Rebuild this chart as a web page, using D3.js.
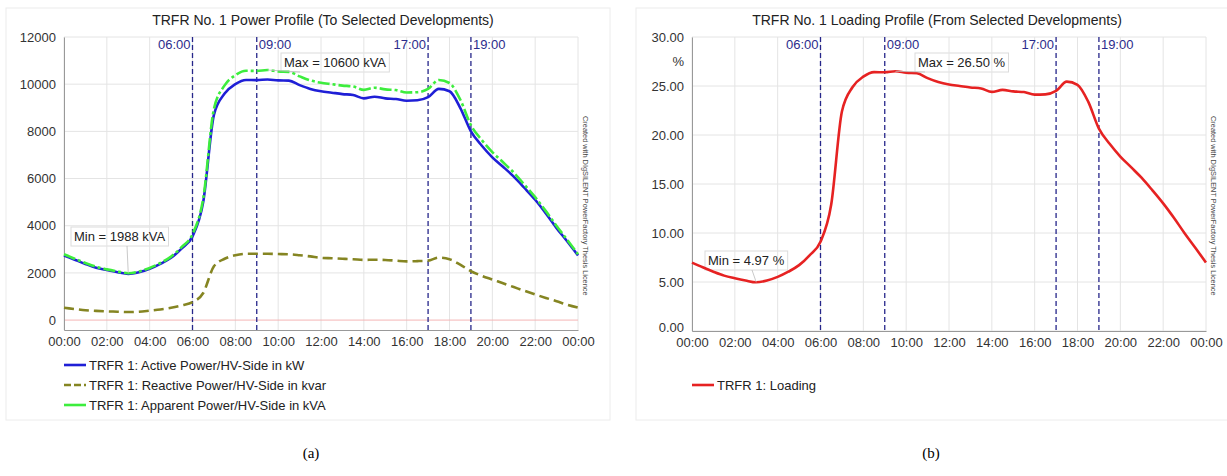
<!DOCTYPE html>
<html>
<head>
<meta charset="utf-8">
<script src="https://cdn.jsdelivr.net/npm/d3@7"></script>
<style>
  body { margin: 0; background: #fff; }
  svg { display: block; font-family: "Liberation Sans", Arial, sans-serif; }
</style>
</head>
<body>
<svg id="chart" width="1227" height="476"></svg>
<script>
// half-hour steps over one day
const hours = d3.range(0, 24.5, 0.5);

// kW
const activePower = [2740, 2560, 2380, 2220, 2120, 2030, 1960, 2030, 2170, 2380, 2640, 3040, 3550, 5000, 8700, 9600,
  10000, 10180, 10170, 10200, 10160, 10150, 9960, 9800, 9700, 9640, 9580, 9540, 9400, 9470, 9400, 9370,
  9300, 9320, 9450, 9800, 9700, 9000, 8000, 7400, 6900, 6500, 6080, 5600, 5100, 4520, 3900, 3330, 2740];
// kvar
const reactivePower = [520, 470, 420, 390, 370, 355, 340, 355, 400, 450, 520, 620, 760, 1150, 2280, 2600,
  2750, 2810, 2810, 2810, 2800, 2790, 2750, 2700, 2640, 2620, 2600, 2580, 2550, 2560, 2550, 2520,
  2490, 2500, 2520, 2650, 2580, 2350, 2070, 1880, 1720, 1560, 1400, 1240, 1085, 940, 800, 650, 530];
// kVA
const apparentPower = [2790, 2600, 2420, 2260, 2150, 2060, 1988, 2060, 2210, 2420, 2690, 3100, 3640, 5150, 8950, 9950,
  10380, 10570, 10560, 10600, 10540, 10520, 10330, 10160, 10060, 10000, 9940, 9900, 9760, 9850, 9780, 9750,
  9650, 9660, 9800, 10180, 10050, 9350, 8260, 7640, 7120, 6690, 6250, 5740, 5210, 4620, 3990, 3400, 2790];
// %
const loading = [6.98, 6.50, 6.05, 5.65, 5.38, 5.15, 4.97, 5.15, 5.52, 6.05, 6.72, 7.75, 9.10, 12.90, 22.40, 24.90,
  25.95, 26.42, 26.40, 26.50, 26.35, 26.30, 25.80, 25.40, 25.15, 25.00, 24.85, 24.75, 24.40, 24.60, 24.45, 24.38,
  24.12, 24.15, 24.50, 25.45, 25.12, 23.40, 20.65, 19.10, 17.80, 16.72, 15.62, 14.35, 13.02, 11.55, 9.98, 8.50, 6.98];

const markers = [
  { h: 6, label: "06:00", side: "left" },
  { h: 9, label: "09:00", side: "right" },
  { h: 17, label: "17:00", side: "left" },
  { h: 19, label: "19:00", side: "right" }
];

const svg = d3.select("#chart");
const watermark = "Created with DIgSILENT PowerFactory Thesis Licence";
const hhmm = h => String(h % 24).padStart(2, "0") + ":00";

function panel(cfg) {
  const g = svg.append("g");
  const x = d3.scaleLinear().domain([0, 24]).range([cfg.x0, cfg.x1]);
  const y = d3.scaleLinear().domain(cfg.yDomain).range([cfg.yBottom, cfg.yTop]);

  // outer frame of the panel
  g.append("rect")
    .attr("x", cfg.frame[0]).attr("y", cfg.frame[1])
    .attr("width", cfg.frame[2]).attr("height", cfg.frame[3])
    .attr("fill", "none").attr("stroke", "#ececec");

  g.append("text")
    .attr("x", cfg.titleX).attr("y", 25)
    .attr("text-anchor", "middle").attr("font-size", 14).attr("fill", "#222")
    .text(cfg.title);

  // grid
  g.append("g").selectAll("line").data(d3.range(0, 25, 2)).join("line")
    .attr("x1", d => x(d)).attr("x2", d => x(d))
    .attr("y1", cfg.yTop).attr("y2", cfg.yBottom)
    .attr("stroke", "#e4e4e4");
  g.append("g").selectAll("line").data(cfg.yTicks).join("line")
    .attr("x1", cfg.x0).attr("x2", cfg.x1)
    .attr("y1", d => y(d)).attr("y2", d => y(d))
    .attr("stroke", d => (d === 0 && cfg.zeroLine) ? "#f4b6b6" : "#e4e4e4");

  // axes
  const xAxis = g.append("g")
    .attr("transform", `translate(0,${cfg.yBottom})`)
    .call(d3.axisBottom(x).tickValues(d3.range(0, 25, 2)).tickFormat(hhmm).tickSize(0).tickPadding(7));
  xAxis.select(".domain").attr("stroke", "#999");
  xAxis.selectAll("text").attr("font-size", 13).attr("fill", "#333")
    .attr("font-family", "Liberation Sans, Arial, sans-serif");

  const yAxis = g.append("g")
    .attr("transform", `translate(${cfg.x0},0)`)
    .call(d3.axisLeft(y).tickValues(cfg.yTicks).tickFormat(cfg.yFormat).tickSize(0).tickPadding(8));
  yAxis.select(".domain").attr("stroke", "#999");
  yAxis.selectAll("text").attr("font-size", 13).attr("fill", "#333")
    .attr("font-family", "Liberation Sans, Arial, sans-serif");
  // lowest label sits just above the time labels, as in the original
  if (cfg.liftFirst) {
    yAxis.selectAll(".tick").filter(d => d === cfg.yTicks[0]).select("text").attr("dy", "0.05em");
  }

  if (cfg.unit) {
    g.append("text").attr("x", cfg.x0 - 8).attr("y", 66)
      .attr("text-anchor", "end").attr("font-size", 13).attr("fill", "#333")
      .text(cfg.unit);
  }

  // time markers
  markers.forEach(m => {
    g.append("line")
      .attr("x1", x(m.h)).attr("x2", x(m.h))
      .attr("y1", cfg.yTop).attr("y2", cfg.yBottom)
      .attr("stroke", "#26268a").attr("stroke-width", 1.3)
      .attr("stroke-dasharray", "5,3");
    g.append("text")
      .attr("x", m.side === "left" ? x(m.h) - 2 : x(m.h) + 2)
      .attr("y", 49)
      .attr("text-anchor", m.side === "left" ? "end" : "start")
      .attr("font-size", 13).attr("fill", "#2c2c8c")
      .text(m.label);
  });

  // series
  cfg.series.forEach(s => {
    const line = d3.line()
      .x((d, i) => x(hours[i]))
      .y(d => y(d))
      .curve(d3.curveMonotoneX);
    g.append("path")
      .datum(s.values)
      .attr("d", line)
      .attr("fill", "none")
      .attr("stroke", s.color)
      .attr("stroke-width", 2.6)
      .attr("stroke-dasharray", s.dash || null);
  });

  // annotations
  cfg.notes.forEach(n => {
    const px = x(n.h), py = y(n.v);
    const t = g.append("text")
      .attr("x", n.tx).attr("y", n.ty)
      .attr("font-size", 13).attr("fill", "#222")
      .text(n.text);
    const bb = t.node().getBBox();
    g.insert("rect", "text")
      .attr("x", bb.x - 3).attr("y", bb.y - 2)
      .attr("width", bb.width + 6).attr("height", bb.height + 4)
      .attr("fill", "none").attr("stroke", "#dcdcdc");
    g.append("line")
      .attr("x1", n.lx).attr("y1", bb.y + bb.height + 2)
      .attr("x2", px).attr("y2", py)
      .attr("stroke", "#bbb").attr("stroke-width", 0.8);
  });

  // watermark
  g.append("text")
    .attr("transform", `translate(${cfg.x1 + 5},${116}) rotate(90)`)
    .attr("font-size", 7.4).attr("fill", "#444")
    .text(watermark);

  // legend
  cfg.series.forEach((s, i) => {
    const ly = cfg.legendY + i * 20;
    g.append("line")
      .attr("x1", cfg.x0).attr("x2", cfg.x0 + 22)
      .attr("y1", ly).attr("y2", ly)
      .attr("stroke", s.color).attr("stroke-width", 2.6)
      .attr("stroke-dasharray", s.legendDash || null);
    g.append("text")
      .attr("x", cfg.x0 + 25).attr("y", ly + 4.5)
      .attr("font-size", 13).attr("fill", "#222")
      .text(s.name);
  });

  svg.append("text")
    .attr("x", cfg.capX).attr("y", 458)
    .attr("text-anchor", "middle")
    .attr("font-family", "Liberation Serif, Times New Roman, serif")
    .attr("font-size", 15).attr("fill", "#000")
    .text(cfg.caption);
}

panel({
  title: "TRFR No. 1 Power Profile (To Selected Developments)",
  titleX: 323,
  frame: [6, 8, 604, 412],
  x0: 64, x1: 578, yTop: 37, yBottom: 330,
  yDomain: [-420, 12000],
  yTicks: [0, 2000, 4000, 6000, 8000, 10000, 12000],
  yFormat: d3.format("d"),
  zeroLine: true,
  series: [
    { name: "TRFR 1: Active Power/HV-Side in kW", values: activePower, color: "#1f1fd6" },
    { name: "TRFR 1: Reactive Power/HV-Side in kvar", values: reactivePower, color: "#858522", dash: "10,5", legendDash: "7,3" },
    { name: "TRFR 1: Apparent Power/HV-Side in kVA", values: apparentPower, color: "#3ded3d", dash: "12,3,3,3" }
  ],
  notes: [
    { text: "Max = 10600 kVA", tx: 284, ty: 67, h: 9.5, v: 10600, lx: 300 },
    { text: "Min = 1988 kVA", tx: 74, ty: 241, h: 3, v: 1988, lx: 127 }
  ],
  legendY: 365,
  capX: 311, caption: "(a)"
});

panel({
  title: "TRFR No. 1 Loading Profile (From Selected Developments)",
  titleX: 937,
  frame: [636, 8, 600, 412],
  x0: 692, x1: 1206, yTop: 37, yBottom: 331,
  yDomain: [0, 30],
  yTicks: [0, 5, 10, 15, 20, 25, 30],
  yFormat: d3.format(".2f"),
  liftFirst: true,
  unit: "%",
  series: [
    { name: "TRFR 1: Loading", values: loading, color: "#e62222" }
  ],
  notes: [
    { text: "Max = 26.50 %", tx: 918, ty: 67, h: 9.5, v: 26.5, lx: 925 },
    { text: "Min = 4.97 %", tx: 708, ty: 265, h: 3, v: 4.97, lx: 752 }
  ],
  legendY: 385,
  capX: 931, caption: "(b)"
});
</script>
</body>
</html>
